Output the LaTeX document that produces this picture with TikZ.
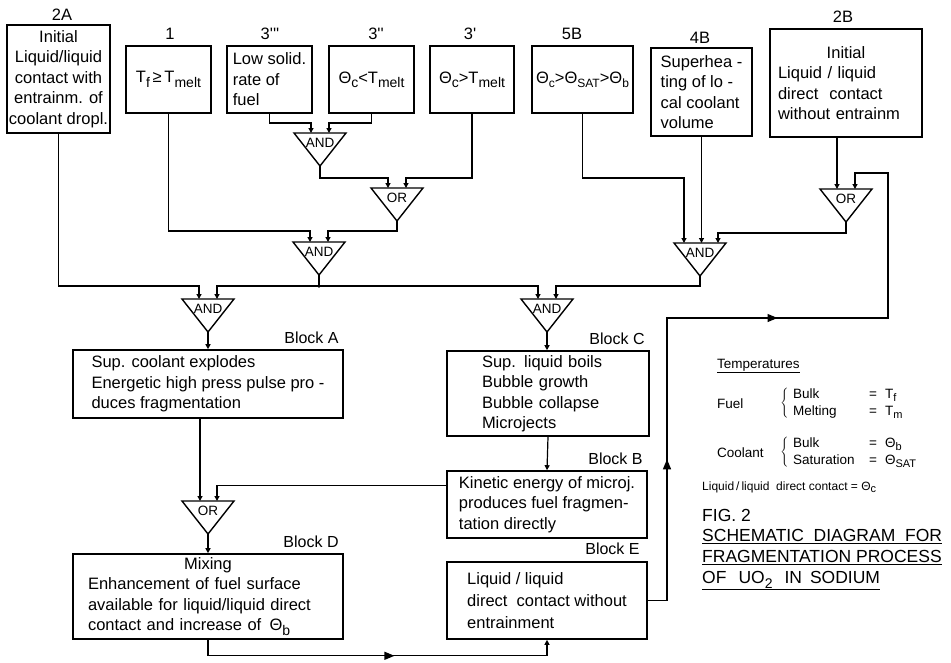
\documentclass[tikz,border=0pt]{standalone}
\usepackage{fontspec}
\setmainfont{Liberation Sans}
\usetikzlibrary{arrows.meta,calc,decorations.markings}
\newcommand\lsub[1]{\raisebox{-0.5ex}{\fontsize{14}{14}\selectfont #1}}
\newcommand\lsubt[1]{\raisebox{-0.5ex}{\fontsize{12}{12}\selectfont #1}}
\newcommand\lsubs[1]{\raisebox{-0.4ex}{\fontsize{11}{11}\selectfont #1}}
\newcommand\mkgate[4]{%
  \coordinate (#1) at (#2,#3);
  \coordinate (#1o) at (#2,#3+33);
  \draw[gateline] ($(#1)+(-26,0)$) -- ($(#1)+(26,0)$) -- (#1o) -- cycle;
  \node[gatetxt] (#1t) at ($(#1)+(0,10)$) {#4};
}
\begin{document}
\begin{tikzpicture}[x=1pt,y=-1pt,
  font=\fontsize{16.5}{20.5}\selectfont,
  box/.style={draw,line width=1.6pt,inner sep=0pt},
  con/.style={line width=1.2pt},
  arr/.style={con,-{Triangle[length=5pt,width=5pt]}},
  gateline/.style={line width=1.4pt,line join=miter},
  gatetxt/.style={inner sep=0pt,font=\fontsize{13.5}{14}\selectfont},
  lbl/.style={inner sep=0pt},
  blabel/.style={anchor=south east,inner sep=0pt,font=\fontsize{16}{16}\selectfont},
  leg/.style={inner sep=0pt,font=\fontsize{13.5}{17}\selectfont},
  midarr/.style={postaction={decorate,decoration={markings,mark=at position #1 with {\arrow{Triangle[length=10pt,width=8pt]}}}}},
]
\useasboundingbox (0,0) rectangle (951,662);

% ---------- top labels ----------
\node[lbl] (l2A) at (62,15) {2A};
\node[lbl] (l1) at (170,34) {1};
\node[lbl] (l3ccc) at (270,34) {3\textquotesingle\textquotesingle\textquotesingle};
\node[lbl] (l3cc) at (376,34) {3\textquotesingle\textquotesingle};
\node[lbl] (l3c) at (470,34) {3\textquotesingle};
\node[lbl] (l5B) at (572,34) {5B};
\node[lbl] (l4B) at (700,38) {4B};
\node[lbl] (l2B) at (843,17) {2B};

% ---------- top boxes ----------
\node[box,minimum width=103,minimum height=108,align=center] (b2A) at (58.5,79)
  {Initial\\Liquid/liquid\\contact with\\entrainm. of\\coolant dropl.};
\node[box,minimum width=85,minimum height=67] (b1) at (168.5,79.5)
  {T\lsub{f}\,≥\,T\lsub{melt}};
\node[box,minimum width=85,minimum height=67,align=left] (b3ccc) at (269.5,79.5)
  {Low solid.\\rate of\\fuel};
\node[box,minimum width=85,minimum height=67] (b3cc) at (371.5,79.5)
  {Θ\lsub{c}<T\lsub{melt}};
\node[box,minimum width=84,minimum height=67] (b3c) at (472,79.5)
  {Θ\lsub{c}>T\lsub{melt}};
\node[box,minimum width=101,minimum height=67] (b5B) at (582.5,79.5)
  {Θ\lsubt{c}>Θ\lsubt{SAT}>Θ\lsubt{b}};
\node[box,minimum width=101,minimum height=88,align=left] (b4B) at (701.5,92)
  {Superhea -\\ting of lo -\\cal coolant\\volume};
\node[box,minimum width=152,minimum height=108,align=left,inner xsep=8pt,text width=136pt] (b2B) at (846,83)
  {\makebox[\linewidth][c]{Initial}\\Liquid / liquid\\direct\ \ contact\\without entrainm};

% ---------- gates ----------
\mkgate{G1}{320}{133}{AND}
\mkgate{G2}{397}{188}{OR}
\mkgate{G3}{319}{242}{AND}
\mkgate{G4}{208}{299}{AND}
\mkgate{G5}{547}{299}{AND}
\mkgate{G6}{700}{243}{AND}
\mkgate{G7}{846}{189}{OR}
\mkgate{G8}{208}{501}{OR}

% ---------- blocks ----------
\node[box,minimum width=270,minimum height=68,align=left] (bA) at (208,384)
  {Sup. coolant explodes\\Energetic high press pulse pro -\\duces fragmentation};
\node[blabel] (lA) at ($(bA.north east)+(-5,-5)$) {Block A};

\node[box,minimum width=202,minimum height=85,align=left,inner xsep=35pt,text width=132pt] (bC) at (548,393.5)
  {Sup. liquid boils\\Bubble growth\\Bubble collapse\\Microjects};
\node[blabel] (lC) at ($(bC.north east)+(-5,-5)$) {Block C};

\node[box,minimum width=200,minimum height=67,align=left] (bB) at (547,504.5)
  {Kinetic energy of microj.\\produces fuel fragmen-\\tation directly};
\node[blabel] (lB) at ($(bB.north east)+(-5,-5)$) {Block B};

\node[box,minimum width=270,minimum height=85,align=left,inner xsep=15pt,text width=240pt] (bD) at (208,596.5)
  {\makebox[\linewidth][c]{Mixing}\\Enhancement of fuel surface\\available for liquid/liquid direct\\contact and increase of\ \,Θ\lsub{b}};
\node[blabel] (lD) at ($(bD.north east)+(-5,-5)$) {Block D};

\node[box,minimum width=200,minimum height=77,align=left,font=\fontsize{16.5}{22}\selectfont] (bE) at (547,600.5)
  {Liquid / liquid\\direct\ \ contact without\\entrainment};
\node[blabel] (lE) at ($(bE.north east)+(-8,-6)$) {Block E};

% ---------- connectors ----------
\draw[arr] (b3ccc.south) |- ($(G1)+(-9,-10)$) -- ($(G1)+(-9,0)$);
\draw[arr] (b3cc.south) |- ($(G1)+(9,-10)$) -- ($(G1)+(9,0)$);
\draw[arr] (G1o) |- ($(G2)+(-9,-10)$) -- ($(G2)+(-9,0)$);
\draw[arr] (b3c.south) |- ($(G2)+(9,-10)$) -- ($(G2)+(9,0)$);
\draw[arr] (b1.south) |- ($(G3)+(-9,-11)$) -- ($(G3)+(-9,0)$);
\draw[arr] (G2o) |- ($(G3)+(9,-11)$) -- ($(G3)+(9,0)$);
\coordinate (bus) at ($(G4)+(0,-13)$);
\draw[arr] (b2A.south) |- ($(G4)+(-9,-13)$) -- ($(G4)+(-9,0)$);
\draw[arr] (G3o) |- ($(G4)+(9,-13)$) -- ($(G4)+(9,0)$);
\draw[arr] (G3o) |- ($(G5)+(-9,-13)$) -- ($(G5)+(-9,0)$);
\draw[arr] (G6o) |- ($(G5)+(9,-13)$) -- ($(G5)+(9,0)$);
\fill (G3o |- bus) circle (1.8);
\draw[arr] (b5B.south) |- ($(G6)+(-16,-65)$) -- ($(G6)+(-16,0)$);
\draw[arr] (b4B.south) -- (b4B.south |- G6);
\draw[arr] (G7o) |- ($(G6)+(18,-10)$) -- ($(G6)+(18,0)$);
\coordinate (G7a) at ($(G7)+(-9,0)$);
\coordinate (G7b) at ($(G7)+(9,0)$);
\draw[arr] (b2B.south -| G7a) -- (G7a);

% feedback from block E
\coordinate (fbA) at (667,318);
\coordinate (fbB) at (888,173);
\draw[arr] (bE.east) -- (bE.east -| fbA) -- (fbA) -- (fbA -| fbB) -- (fbB) -- (fbB -| G7b) -- (G7b);
\draw[con,midarr=0.5] (bE.east -| fbA) -- (fbA);
\draw[con,midarr=0.5] (fbA) -- (fbA -| fbB);

% gates to blocks
\draw[arr] (G4o) -- (bA.north);
\draw[arr] (G5o) -- (G5o |- bC.north);
\draw[arr] (bC.south) -- (bB.north);
\coordinate (G8a) at ($(G8)+(-8,0)$);
\coordinate (G8b) at ($(G8)+(9,0)$);
\draw[arr] (bA.south -| G8a) -- (G8a);
\coordinate (bBw) at ($(bB.north west)+(0,15)$);
\draw[arr] (bBw) -| (G8b);
\draw[arr] (G8o) -- (bD.north);

% bottom line D -> E
\coordinate (botL) at ($(bD.south)+(0,16)$);
\draw[arr] (bD.south) -- (botL) -| (bE.south);
\draw[con,midarr=0.55] (botL) -- (botL -| bE.south);

% ---------- legend ----------
\node[leg,anchor=west] (tmp) at (717,366) {\underline{Temperatures}};
\node[leg,anchor=west] (fuel) at (717,404) {Fuel};
\node[inner sep=0pt] (fbr) at (785,404) {$\left\{\vrule height 12pt depth 12pt width 0pt\right.$};
\node[leg,anchor=west,align=left] (fvals) at (793,404)
  {\makebox[76pt][l]{Bulk}=\hspace{8pt}T\lsubs{f}\\\makebox[76pt][l]{Melting}=\hspace{8pt}T\lsubs{m}};
\node[leg,anchor=west] (cool) at (717,453) {Coolant};
\node[inner sep=0pt] (cbr) at (785,453) {$\left\{\vrule height 12pt depth 12pt width 0pt\right.$};
\node[leg,anchor=west,align=left] (cvals) at (793,453)
  {\makebox[76pt][l]{Bulk}=\hspace{8pt}Θ\lsubs{b}\\\makebox[76pt][l]{Saturation}=\hspace{8pt}Θ\lsubs{SAT}};
\node[leg,anchor=west,font=\fontsize{12}{14}\selectfont] (lld) at (702,487) {Liquid\,/\,liquid\ \ direct contact = Θ\lsubs{c}};

\node[anchor=west,inner sep=0pt,font=\fontsize{17.5}{21}\selectfont] (fig) at (702,515) {FIG. 2};
\node[anchor=north west,inner sep=0pt,align=left,font=\fontsize{17.5}{21}\selectfont] (title) at (702,529)
  {\underline{SCHEMATIC\ \ DIAGRAM\ \ FOR}\\\underline{FRAGMENTATION PROCESS}\\\underline{OF\hspace{12pt}UO\lsub{2}\hspace{12pt}IN\hspace{8pt}SODIUM}};
\end{tikzpicture}
\end{document}
